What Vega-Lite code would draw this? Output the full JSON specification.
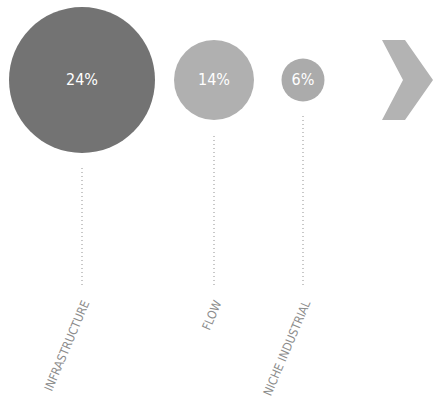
{
  "$schema": "https://vega.github.io/schema/vega-lite/v6.json",
  "autosize": {"type": "none"},
  "width": 433,
  "height": 403,
  "padding": 0,
  "background": "white",
  "config": {"view": {"stroke": null}, "font": "Liberation Sans Narrow, DejaVu Sans Condensed, sans-serif"},
  "data": {
    "values": [
      {"segment": "INFRASTRUCTURE", "share": 0.24},
      {"segment": "FLOW", "share": 0.14},
      {"segment": "NICHE INDUSTRIAL", "share": 0.06}
    ]
  },
  "encoding": {
    "x": {"field": "share", "type": "quantitative", "axis": null,
      "scale": {"type": "linear", "zero": false, "nice": false, "domain": [0.24, 0.14, 0.06, 0], "range": [82, 214, 303, 407.5]}}
  },
  "layer": [
    {"mark": {"type": "rule", "strokeDash": [1, 3], "color": "#909090", "strokeWidth": 1},
     "encoding": {"y": {"datum": 19.85, "type": "quantitative", "scale": {"domain": [0, 100], "reverse": true, "nice": false}, "axis": null}, "y2": {"datum": 71}}},
    {"mark": {"type": "point", "filled": true, "color": "white", "stroke": "white", "strokeWidth": 28, "opacity": 1},
     "encoding": {"y": {"datum": 19.85, "type": "quantitative"},
       "size": {"field": "share", "type": "quantitative", "scale": {"type": "linear", "zero": false, "domain": [0.06, 0.14, 0.24], "range": [1849, 6400, 21316]}, "legend": null}}},
    {"mark": {"type": "point", "filled": true, "opacity": 1},
     "encoding": {"y": {"datum": 19.85, "type": "quantitative"},
       "size": {"field": "share", "type": "quantitative", "legend": null},
       "color": {"field": "segment", "type": "nominal", "scale": {"domain": ["INFRASTRUCTURE", "FLOW", "NICHE INDUSTRIAL"], "range": ["#737373", "#b0b0b0", "#ababab"]}, "legend": null}}},
    {"mark": {"type": "text", "color": "white", "fontSize": 16, "baseline": "middle"},
     "encoding": {"y": {"datum": 19.85, "type": "quantitative"}, "text": {"field": "share", "type": "quantitative", "format": ".0%"}}},
    {"mark": {"type": "text", "angle": -67, "align": "right", "baseline": "middle", "fontSize": 12, "color": "#8c8c8c", "xOffset": 4},
     "encoding": {"y": {"datum": 74.7, "type": "quantitative"}, "text": {"field": "segment"}}},
    {"data": {"values": [{"share": 0}]},
     "mark": {"type": "point", "filled": true, "opacity": 1, "color": "#b3b3b3", "size": 6400,
       "shape": "M -0.6375 -1 L -0.0625 -1 L 0.6375 0 L -0.0625 1 L -0.6375 1 L -0.1125 0 Z"},
     "encoding": {"y": {"datum": 19.85, "type": "quantitative"}}}
  ]
}
